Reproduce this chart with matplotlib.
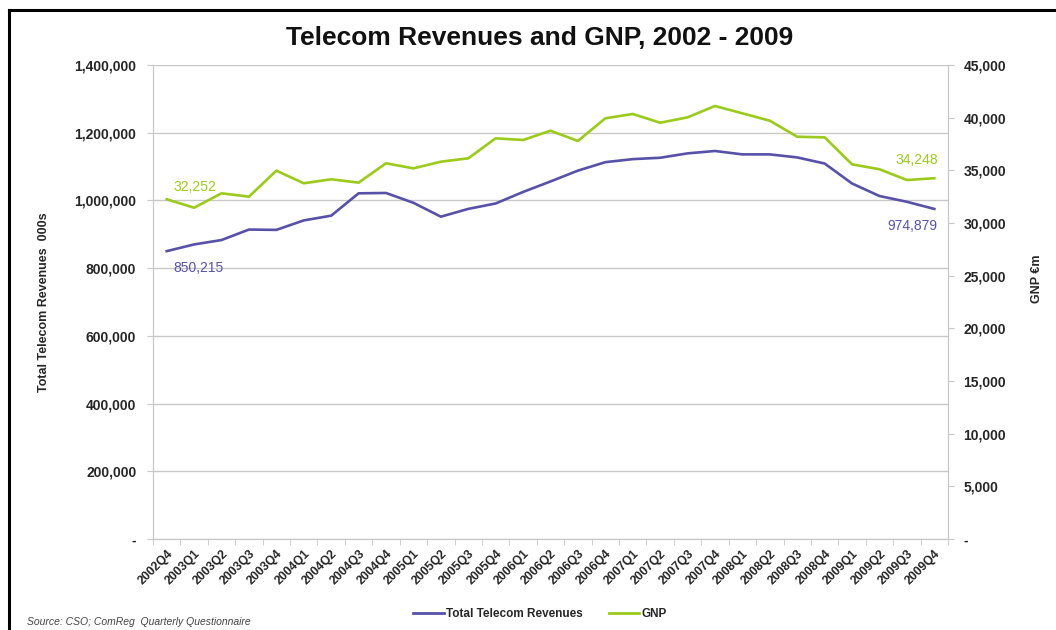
import matplotlib
matplotlib.use("Agg")
import matplotlib.pyplot as plt
from matplotlib.ticker import FuncFormatter, FixedLocator
from matplotlib.lines import Line2D

plt.rcParams['font.family'] = ['Liberation Sans', 'DejaVu Sans']

# quarters 2002Q4 .. 2009Q4
quarters = ["2002Q4",
            "2003Q1", "2003Q2", "2003Q3", "2003Q4",
            "2004Q1", "2004Q2", "2004Q3", "2004Q4",
            "2005Q1", "2005Q2", "2005Q3", "2005Q4",
            "2006Q1", "2006Q2", "2006Q3", "2006Q4",
            "2007Q1", "2007Q2", "2007Q3", "2007Q4",
            "2008Q1", "2008Q2", "2008Q3", "2008Q4",
            "2009Q1", "2009Q2", "2009Q3", "2009Q4"]

# total telecom revenues, €000s
revenues = [850215,
            870000, 883000, 914000, 913000,
            941000, 955000, 1021000, 1022000,
            993000, 952000, 975000, 991000,
            1025000, 1056000, 1088000, 1113000,
            1122000, 1126000, 1139000, 1146000,
            1136000, 1136000, 1127000, 1109000,
            1050000, 1013000, 996000, 974879]

# GNP, €m
gnp = [32252,
       31450, 32820, 32500, 34970,
       33770, 34150, 33830, 35670,
       35190, 35820, 36140, 38040,
       37880, 38760, 37790, 39940,
       40350, 39520, 40030, 41110,
       40410, 39710, 38190, 38130,
       35570, 35100, 34080, 34248]

PURPLE = '#5752a8'
GREEN = '#9acb1c'
GRID = '#c8c8c8'
TXT = '#262626'

fig = plt.figure(figsize=(10.56, 6.3), dpi=100)
ax = fig.add_axes([153 / 1056, 91 / 630, 795 / 1056, 474 / 630])
ax2 = ax.twinx()

x = range(len(quarters))
ax.plot(x, revenues, color=PURPLE, lw=1.9, zorder=3)
ax2.plot(x, gnp, color=GREEN, lw=1.9, zorder=3)

def dash_zero(v, p):
    return '-' if v == 0 else f'{int(v):,}'

# left axis
ax.set_ylim(0, 1400000)
ax.set_yticks(range(0, 1400001, 200000))
ax.yaxis.set_major_formatter(FuncFormatter(dash_zero))
ax.grid(axis='y', color=GRID, lw=1)
ax.set_axisbelow(True)

# right axis
ax2.set_ylim(0, 45000)
ax2.set_yticks(range(0, 45001, 5000))
ax2.yaxis.set_major_formatter(FuncFormatter(dash_zero))

# category axis, ticks between categories
ax.set_xlim(-0.5, len(quarters) - 0.5)
ax.set_xticks(list(x))
ax.set_xticklabels(quarters, rotation=45, ha='right', va='top',
                   rotation_mode='anchor', fontsize=8.8, fontweight='bold', color=TXT)
ax.xaxis.set_minor_locator(FixedLocator([i - 0.5 for i in range(len(quarters) + 1)]))
ax.tick_params(axis='x', which='major', length=0, pad=6)
ax.tick_params(axis='x', which='minor', length=4, color=GRID)

for a in (ax, ax2):
    for s in a.spines.values():
        s.set_color(GRID)
    a.spines['top'].set_visible(False)
ax.tick_params(axis='y', length=4, color=GRID, labelsize=10, labelcolor=TXT, pad=8)
ax2.tick_params(axis='y', length=4, color=GRID, labelsize=10, labelcolor=TXT, pad=7)
for lab in ax.get_yticklabels() + ax2.get_yticklabels():
    lab.set_fontweight('bold')

ax.set_ylabel('Total Telecom Revenues  000s', fontsize=9, fontweight='bold', color=TXT)
ax.yaxis.set_label_coords(-0.13, 0.5)
ax2.set_ylabel('GNP €m', fontsize=9, fontweight='bold', color=TXT)
ax2.yaxis.set_label_coords(1.105, 0.55)

# end-point labels
ax.annotate(f'{revenues[0]:,}', (0, revenues[0]), xytext=(5, -12), textcoords='offset points',
            color=PURPLE, fontsize=10, ha='left', va='center')
ax.annotate(f'{revenues[-1]:,}', (len(quarters) - 1, revenues[-1]), xytext=(2, -12),
            textcoords='offset points', color=PURPLE, fontsize=10, ha='right', va='center')
ax2.annotate(f'{gnp[0]:,}', (0, gnp[0]), xytext=(5, 9), textcoords='offset points',
             color=GREEN, fontsize=10, ha='left', va='center')
ax2.annotate(f'{gnp[-1]:,}', (len(quarters) - 1, gnp[-1]), xytext=(3, 13),
             textcoords='offset points', color=GREEN, fontsize=10, ha='right', va='center')

fig.text(540 / 1056, 1 - 38 / 630, 'Telecom Revenues and GNP, 2002 - 2009',
         ha='center', va='center', fontsize=19, fontweight='bold', color='#111111')

handles = [Line2D([], [], color=PURPLE, lw=2), Line2D([], [], color=GREEN, lw=2)]
fig.legend(handles, ['Total Telecom Revenues', 'GNP'], loc='center',
           bbox_to_anchor=(540 / 1056, 1 - 614 / 630), ncol=2, frameon=False,
           prop={'size': 8.5, 'weight': 'bold'}, handlelength=2.6, handletextpad=0.2,
           columnspacing=2.2, labelcolor=TXT)

fig.text(27 / 1056, 1 - 622 / 630, 'Source: CSO; ComReg  Quarterly Questionnaire',
         fontsize=7.5, style='italic', color='#444444', ha='left', va='center')

# chart frame: top and left edges
fig.add_artist(Line2D([9 / 1056, 9 / 1056], [0, 1 - 10 / 630], color='black', lw=2.2,
                      transform=fig.transFigure))
fig.add_artist(Line2D([9 / 1056, 1], [1 - 10 / 630, 1 - 10 / 630], color='black', lw=2.2,
                      transform=fig.transFigure))

fig.savefig('out.png', dpi=100, facecolor='white')
